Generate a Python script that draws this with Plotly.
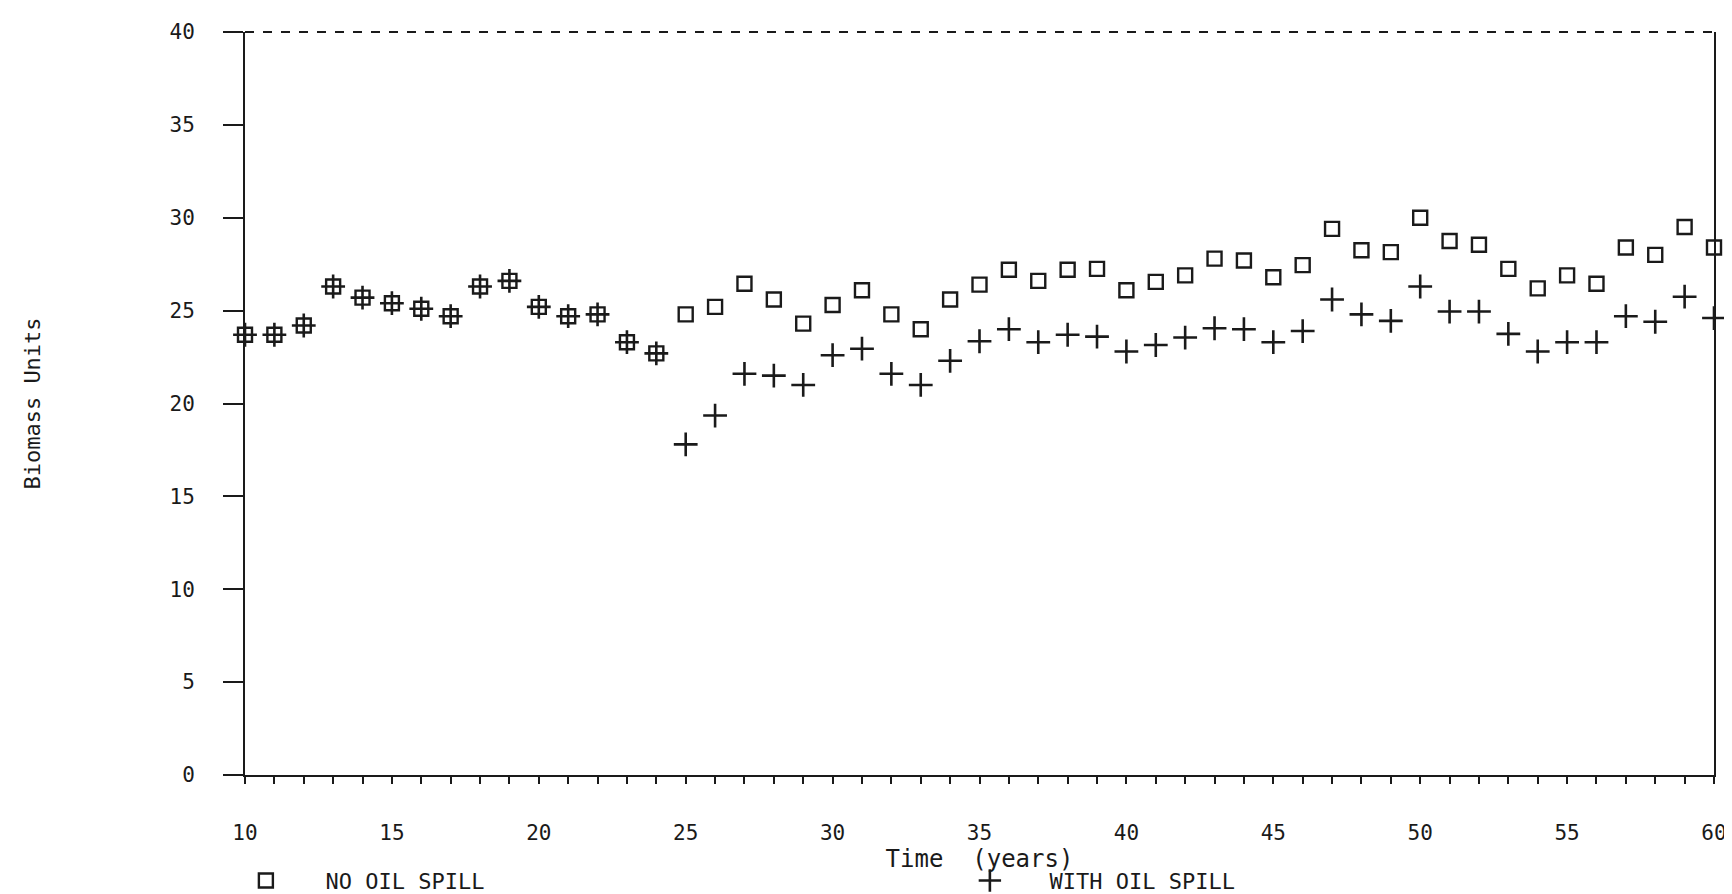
import plotly.graph_objects as go

years = list(range(10, 61))

no_oil_spill = [23.7, 23.7, 24.2, 26.3, 25.7, 25.4, 25.1, 24.7, 26.3, 26.6,
                25.2, 24.7, 24.8, 23.3, 22.7,
                24.8, 25.2, 26.45, 25.6, 24.3, 25.3, 26.1, 24.8, 24.0, 25.6,
                26.4, 27.2, 26.6, 27.2, 27.25, 26.1, 26.55, 26.9,
                27.8, 27.7, 26.8, 27.45, 29.4, 28.25, 28.15, 30.0, 28.75, 28.55,
                27.25, 26.2, 26.9, 26.45, 28.4, 28.0, 29.5, 28.4]

with_oil_spill = [23.7, 23.7, 24.2, 26.3, 25.7, 25.4, 25.1, 24.7, 26.3, 26.6,
                  25.2, 24.7, 24.8, 23.3, 22.7,
                  17.8, 19.35, 21.6, 21.5, 21.0, 22.6, 22.95, 21.6, 21.0, 22.3,
                  23.35, 24.0, 23.3, 23.7, 23.6, 22.8, 23.15, 23.55,
                  24.05, 24.0, 23.3, 23.9, 25.6, 24.8, 24.45, 26.3, 24.95, 24.95,
                  23.75, 22.8, 23.3, 23.3, 24.7, 24.4, 25.75, 24.6]

x_ticks = [10, 15, 20, 25, 30, 35, 40, 45, 50, 55, 60]
y_ticks = [0, 5, 10, 15, 20, 25, 30, 35, 40]

FONT = "DejaVu Sans Mono"
INK = "#1a1a1a"
PAD = "\u00a0\u00a0\u00a0"

fig = go.Figure()
fig.add_trace(go.Scatter(
    x=years, y=no_oil_spill, mode="markers", name=PAD + "NO OIL SPILL",
    cliponaxis=False,
    marker=dict(symbol="square-open", size=14, color=INK, line=dict(width=2.4, color=INK)),
))
fig.add_trace(go.Scatter(
    x=years, y=with_oil_spill, mode="markers", name=PAD + "WITH OIL SPILL",
    cliponaxis=False,
    marker=dict(symbol="cross-thin-open", size=17, color=INK, line=dict(width=2.6, color=INK)),
))

fig.add_shape(type="line", xref="x domain", yref="y domain", x0=0, x1=1, y0=1, y1=1,
              line=dict(color=INK, width=2, dash="dash"))

fig.update_layout(
    width=1732, height=894,
    margin=dict(l=237, r=26, t=24, b=127, autoexpand=False),
    paper_bgcolor="white", plot_bgcolor="white",
    font=dict(family=FONT, size=20, color=INK),
    showlegend=True,
    legend=dict(orientation="h", x=0.0006, xanchor="left", y=-0.114, yanchor="top",
                entrywidth=679, entrywidthmode="pixels", itemwidth=30,
                font=dict(family=FONT, size=22, color=INK), bgcolor="rgba(0,0,0,0)"),
)

fig.update_xaxes(
    range=[10, 60], tickmode="array", tickvals=x_ticks, ticktext=[str(v) for v in x_ticks],
    showgrid=False, zeroline=False, showline=True, linecolor=INK, linewidth=2,
    ticks="outside", ticklen=7, tickwidth=1.5, tickcolor=INK,
    minor=dict(dtick=1, ticks="outside", ticklen=7, tickwidth=1.5, tickcolor=INK, showgrid=False),
    ticklabelstandoff=31, automargin=False,
    title=dict(text="Time  (years)", font=dict(family=FONT, size=24, color=INK), standoff=0),
    tickfont=dict(family=FONT, size=21, color=INK),
)
fig.update_yaxes(
    range=[0, 40], tickmode="array", tickvals=y_ticks, ticktext=[str(v) for v in y_ticks],
    showgrid=False, zeroline=False, showline=True, mirror=True, linecolor=INK, linewidth=2,
    ticks="outside", ticklen=20, tickwidth=1.5, tickcolor=INK,
    ticklabelstandoff=24, automargin=False,
    title=dict(text="Biomass Units", font=dict(family=FONT, size=22, color=INK), standoff=123),
    tickfont=dict(family=FONT, size=21, color=INK),
)

fig.write_html("out.html")
